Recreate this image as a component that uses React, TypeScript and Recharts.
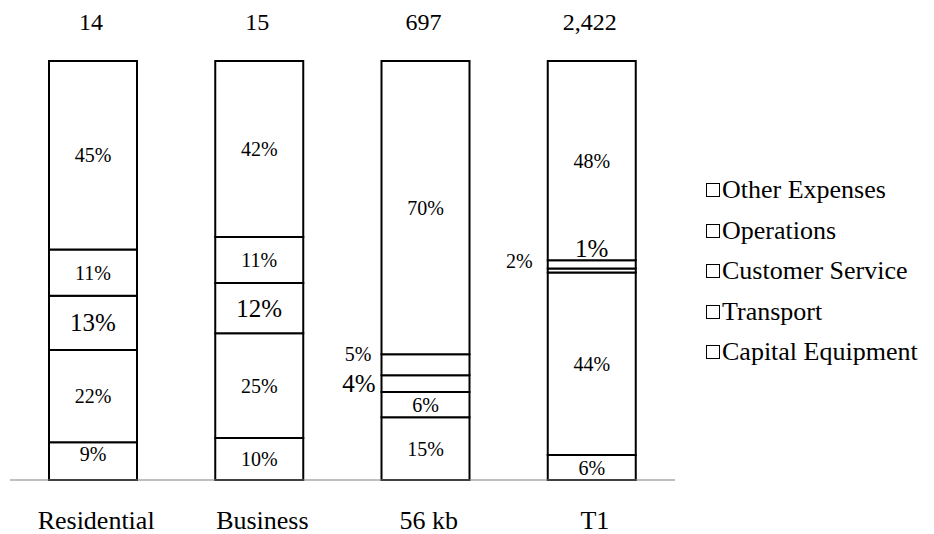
import React from 'react';
import { BarChart, Bar, XAxis, YAxis, LabelList } from 'recharts';

// Access lines, with the annual cost total shown above each bar
const categories = ['Residential', 'Business', '56 kb', 'T1'];
const totals = ['14', '15', '697', '2,422'];

// Cost share per component (%), bottom of the stack first
const capitalEquipment = [9, 10, 15, 6];
const transport = [22, 25, 6, 44];
const customerService = [13, 12, 4, 1];
const operations = [11, 11, 5, 2];
const otherExpenses = [45, 42, 70, 48];

const seriesDefs = [
  { key: 'capital', name: 'Capital Equipment', values: capitalEquipment },
  { key: 'transport', name: 'Transport', values: transport },
  { key: 'customer', name: 'Customer Service', values: customerService },
  { key: 'operations', name: 'Operations', values: operations },
  { key: 'other', name: 'Other Expenses', values: otherExpenses },
];

const rows = categories.map((category, i) => {
  const row: Record<string, string | number> = { category, total: totals[i] };
  seriesDefs.forEach((s) => {
    row[s.key] = s.values[i];
  });
  return row;
});

const FONT = 'Liberation Serif, Tinos, Times New Roman, Nimbus Roman, DejaVu Serif, serif';

// Per-segment label adjustments (size, nudges, labels placed beside the bar)
type Tweak = { size?: number; dy?: number; outside?: number; atTop?: boolean };
const labelTweaks: Record<string, Tweak> = {
  'capital:0': { dy: -7 },
  'customer:0': { size: 25 },
  'customer:1': { size: 25 },
  'customer:2': { size: 25, outside: 6 },
  'operations:2': { outside: 10, atTop: true },
  'customer:3': { size: 25, dy: -22 },
  'operations:3': { outside: 15, dy: -3 },
};

const makeSegmentLabel = (key: string) => (props: any) => {
  const vb = props.viewBox ?? props;
  const { x, y, width, height } = vb;
  const { value, index } = props;
  const t = labelTweaks[`${key}:${index}`] || {};
  const size = t.size ?? 20;
  const outside = t.outside != null;
  const tx = outside ? x - (t.outside as number) : x + width / 2;
  const ty = (t.atTop ? y : y + height / 2) + (t.dy ?? 0);
  return (
    <text
      key={`${key}-${index}`}
      x={tx}
      y={ty}
      textAnchor={outside ? 'end' : 'middle'}
      dominantBaseline="central"
      style={{ fontFamily: FONT, fontSize: size }}
      fill="#000"
    >
      {`${value}%`}
    </text>
  );
};

const renderTotal = (props: any) => {
  const vb = props.viewBox ?? props;
  const { x, y, width } = vb;
  return (
    <text
      key={`total-${props.index}`}
      x={x + width / 2 - 2}
      y={y - 39}
      textAnchor="middle"
      dominantBaseline="central"
      style={{ fontFamily: FONT, fontSize: 24 }}
      fill="#000"
    >
      {props.value}
    </text>
  );
};

const CategoryTick = (props: any) => {
  const { x, y, payload } = props;
  return (
    <text
      x={x + 3}
      y={y + 40}
      textAnchor="middle"
      dominantBaseline="central"
      style={{ fontFamily: FONT, fontSize: 26 }}
      fill="#000"
    >
      {payload.value}
    </text>
  );
};

export default function App() {
  const legendItems = [...seriesDefs].reverse();
  return (
    <div style={{ position: 'absolute', left: 0, top: 0, width: 934, height: 534, background: '#fff' }}>
      <BarChart
        width={934}
        height={534}
        data={rows}
        stackOffset="expand"
        barSize={88}
        margin={{ top: 61, right: 259, left: 10, bottom: 0 }}
      >
        <XAxis
          dataKey="category"
          height={54}
          tickLine={false}
          tickSize={0}
          tickMargin={0}
          axisLine={{ stroke: '#808080', strokeWidth: 1.2 }}
          tick={<CategoryTick />}
          interval={0}
        />
        <YAxis hide domain={[0, 1]} />
        {seriesDefs.map((s) => (
          <Bar
            key={s.key}
            dataKey={s.key}
            name={s.name}
            stackId="cost"
            fill="#ffffff"
            stroke="#000000"
            strokeWidth={2}
            isAnimationActive={false}
          >
            <LabelList dataKey={s.key} content={makeSegmentLabel(s.key)} />
            {s.key === 'other' ? <LabelList dataKey="total" content={renderTotal} /> : null}
          </Bar>
        ))}
      </BarChart>
      <div
        style={{
          position: 'absolute',
          left: 706,
          top: 170,
          fontFamily: FONT,
          fontSize: 26,
          color: '#000',
        }}
      >
        {legendItems.map((s) => (
          <div key={s.key} style={{ display: 'flex', alignItems: 'center', height: 40.5, whiteSpace: 'nowrap' }}>
            <span
              style={{
                display: 'inline-block',
                width: 12,
                height: 12,
                border: '1.5px solid #000',
                background: '#fff',
                marginRight: 2,
                boxSizing: 'content-box',
              }}
            />
            <span>{s.name}</span>
          </div>
        ))}
      </div>
    </div>
  );
}
